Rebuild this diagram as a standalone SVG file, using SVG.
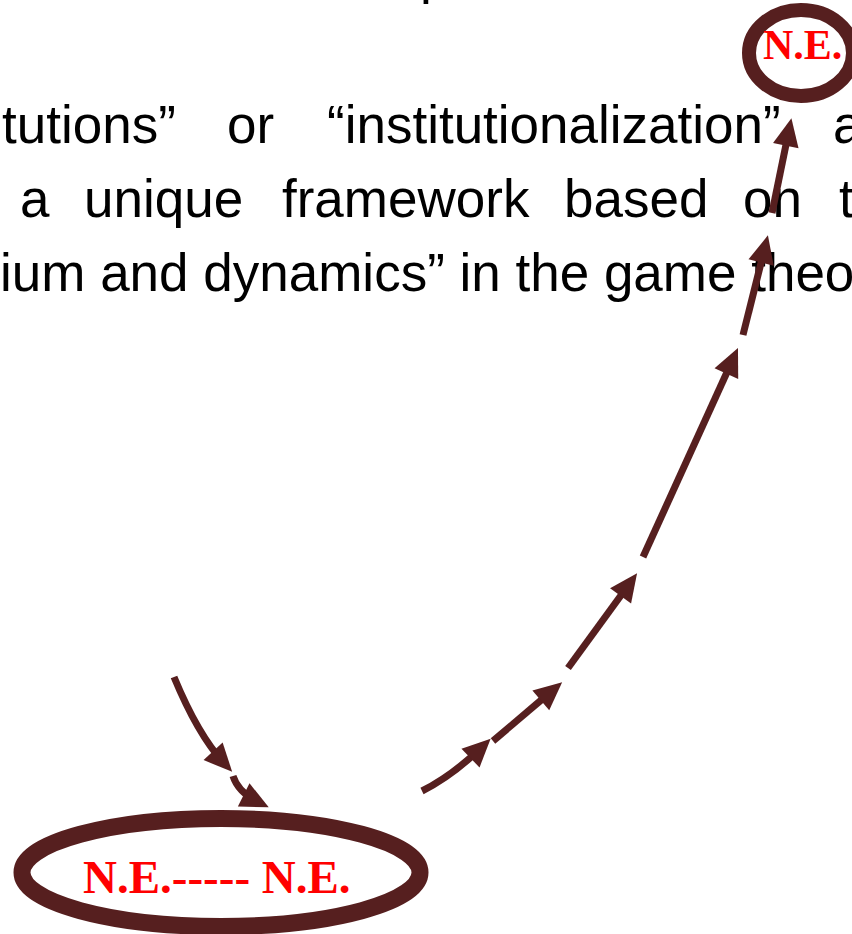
<svg xmlns="http://www.w3.org/2000/svg" width="852" height="934" viewBox="0 0 852 934">
<style>
.body{font-family:"Liberation Sans",Arial,sans-serif;font-size:53px;fill:#000}
.lbl{font-family:"Liberation Serif","Times New Roman",serif;font-weight:bold;fill:#ff0000}
.ring{fill:#fff;stroke:#561f1f}
.conn{fill:none;stroke:#561f1f;stroke-width:7;marker-end:url(#ah)}
</style>
<defs>
<marker id="ah" markerUnits="userSpaceOnUse" viewBox="-16 -13 28 26" refX="0" refY="0" markerWidth="28" markerHeight="26" orient="auto" overflow="visible">
<path d="M-16,-13 L12,0 L-16,13 z" fill="#561f1f"/>
</marker>
</defs>
<rect width="852" height="934" fill="#fff"/>
<g id="paragraph" class="body">
<text x="420" y="-7">p</text>
<text x="2" y="143">tutions”</text>
<text x="227" y="143">or</text>
<text x="327" y="143">“institutionalization”</text>
<text x="833" y="143">a</text>
<text x="20" y="217">a</text>
<text x="84" y="217">unique</text>
<text x="282" y="217">framework</text>
<text x="564" y="217">based</text>
<text x="743" y="217">on</text>
<text x="839" y="217">t</text>
<text x="0" y="291">ium and dynamics” in the game theo</text>
</g>
<g id="connectors">
<path class="conn" d="M174,677 Q198,735 224,763"/>
<path class="conn" d="M233,776 Q238,792 258,802"/>
<path class="conn" d="M422,791 Q452,776 482,747"/>
<path class="conn" d="M493,741 L553,690"/>
<path class="conn" d="M568,668 L630,583"/>
<path class="conn" d="M643,557 L733,359"/>
<path class="conn" d="M743,335 L765,247"/>
<path class="conn" d="M772,213 L789,130"/>
</g>
<g id="node-top">
<ellipse class="ring" cx="801" cy="53" rx="52" ry="43" stroke-width="14"/>
<text class="lbl" x="763" y="59" font-size="42">N.E.</text>
</g>
<g id="node-bottom">
<ellipse class="ring" cx="221" cy="872.5" rx="199" ry="54" stroke-width="17"/>
<text class="lbl" x="83" y="893" font-size="47">N.E.----- N.E.</text>
</g>
</svg>
